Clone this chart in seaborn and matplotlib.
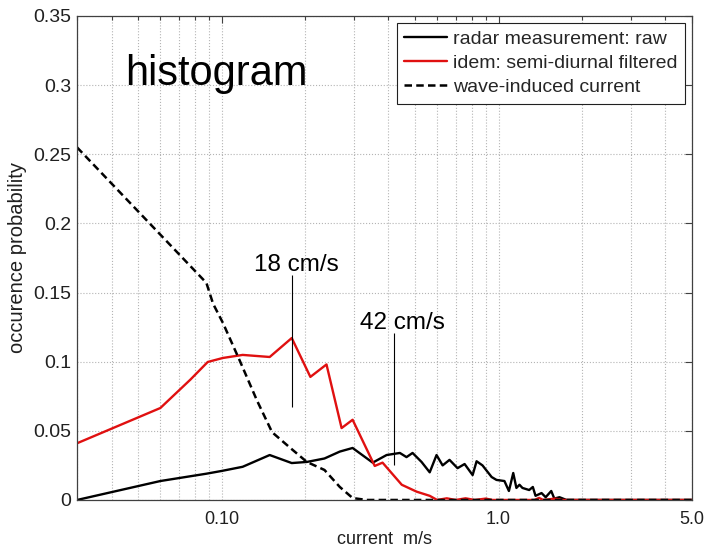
import matplotlib
matplotlib.use("Agg")
import matplotlib.pyplot as plt
from matplotlib.ticker import FixedLocator, FixedFormatter, NullFormatter
import seaborn as sns

# Radar measurement, raw histogram
current_raw = [0.030, 0.060, 0.088, 0.100, 0.119, 0.149, 0.179, 0.203, 0.235, 0.267,
               0.297, 0.351, 0.394, 0.440, 0.465, 0.489, 0.527, 0.564, 0.597, 0.628,
               0.665, 0.711, 0.754, 0.806, 0.833, 0.875, 0.944, 0.983, 1.05, 1.09,
               1.13, 1.16, 1.19, 1.22, 1.29, 1.33, 1.36, 1.43, 1.48, 1.55, 1.59,
               1.66, 1.76, 5.0]
prob_raw = [0.000, 0.0137, 0.019, 0.021, 0.024, 0.0325, 0.0267, 0.0275, 0.030, 0.035,
            0.0376, 0.027, 0.0325, 0.034, 0.031, 0.034, 0.0275, 0.020, 0.0325, 0.025,
            0.029, 0.023, 0.026, 0.018, 0.028, 0.025, 0.0166, 0.0145, 0.0137, 0.0065,
            0.0195, 0.0087, 0.011, 0.0087, 0.0072, 0.0094, 0.003, 0.005, 0.002, 0.0065,
            0.001, 0.002, 0.000, 0.000]

# Same measurement after semi-diurnal filtering
current_filt = [0.030, 0.060, 0.077, 0.089, 0.101, 0.119, 0.149, 0.179, 0.209, 0.239,
                0.271, 0.297, 0.357, 0.381, 0.447, 0.506, 0.564, 0.600, 0.650, 0.700,
                0.760, 0.820, 0.900, 0.950, 1.35, 1.40, 1.45, 1.60, 1.70, 5.0]
prob_filt = [0.041, 0.0665, 0.087, 0.0998, 0.1027, 0.1049, 0.1034, 0.1171, 0.089, 0.098,
             0.052, 0.058, 0.0246, 0.027, 0.011, 0.006, 0.003, 0.000, 0.0012, 0.000,
             0.0012, 0.000, 0.001, 0.000, 0.000, 0.0015, 0.000, 0.001, 0.000, 0.000]

# Wave-induced current
current_wave = [0.030, 0.088, 0.093, 0.101, 0.116, 0.134, 0.152, 0.176, 0.203, 0.235,
                0.267, 0.297, 0.334, 5.0]
prob_wave = [0.255, 0.157, 0.142, 0.128, 0.101, 0.072, 0.049, 0.038, 0.0275, 0.0217,
             0.0094, 0.0014, 0.000, 0.000]

series_labels = ["radar measurement: raw", "idem: semi-diurnal filtered",
                 "wave-induced current"]

# Marked modal speeds (m/s) with their labels
mark_speed = [0.18, 0.42]
mark_text = ["18 cm/s", "42 cm/s"]
mark_low = [0.067, 0.025]
mark_high = [0.163, 0.121]

x_major = [0.1, 1.0, 5.0]
x_major_labels = ["0.10", "1.0", "5.0"]
x_minor = [0.03, 0.04, 0.05, 0.06, 0.07, 0.08, 0.09,
           0.2, 0.3, 0.4, 0.5, 0.6, 0.7, 0.8, 0.9, 2, 3, 4]
y_ticks = [0, 0.05, 0.1, 0.15, 0.2, 0.25, 0.3, 0.35]
y_tick_labels = ["0", "0.05", "0.1", "0.15", "0.2", "0.25", "0.3", "0.35"]

sns.set_theme(style="white")
plt.rcParams["font.family"] = ["Liberation Sans", "DejaVu Sans"]

fig, ax = plt.subplots(figsize=(7.04, 5.49), dpi=100)
fig.subplots_adjust(left=0.1094, right=0.983, bottom=0.0893, top=0.9709)
ax.set_xscale("log")

sns.lineplot(x=current_raw, y=prob_raw, ax=ax, color="black", lw=1.7,
             estimator=None, label=series_labels[0])
sns.lineplot(x=current_filt, y=prob_filt, ax=ax, color="#e01010", lw=1.7,
             estimator=None, label=series_labels[1])
sns.lineplot(x=current_wave, y=prob_wave, ax=ax, color="black", lw=1.8,
             linestyle=(0, (3.0, 1.7)), estimator=None, label=series_labels[2])

ax.set_xlim(0.03, 5.0)
ax.set_ylim(0, 0.35)

ax.xaxis.set_major_locator(FixedLocator(x_major))
ax.xaxis.set_major_formatter(FixedFormatter(x_major_labels))
ax.xaxis.set_minor_locator(FixedLocator(x_minor))
ax.xaxis.set_minor_formatter(NullFormatter())
ax.yaxis.set_major_locator(FixedLocator(y_ticks))
ax.yaxis.set_major_formatter(FixedFormatter(y_tick_labels))

ax.grid(True, which="major", axis="both", linestyle=":", color="#b4b4b4", lw=0.8)
ax.grid(True, which="minor", axis="x", linestyle=":", color="#b4b4b4", lw=0.8)

ax.tick_params(which="both", direction="in", top=True, right=True,
               color="#404040", width=0.8)
ax.tick_params(which="major", length=5)
ax.tick_params(which="minor", length=3)
ax.tick_params(axis="x", which="major", labelsize=13, pad=8, labelcolor="#202020")
ax.tick_params(axis="y", which="major", labelsize=14, pad=4, labelcolor="#202020")
for sp in ax.spines.values():
    sp.set_color("#404040")
    sp.set_linewidth(0.9)

ax.set_xlabel("current  m/s", fontsize=13, labelpad=2, color="#202020")
ax.set_ylabel("occurence probability", fontsize=14.5, labelpad=5, color="#202020")

# Markers for the modal speeds
ax.vlines(mark_speed, mark_low, mark_high, color="black", lw=0.8)
for xs, txt, top, dx in zip(mark_speed, mark_text, mark_high, [4, 8]):
    ax.annotate(txt, xy=(xs, top), xytext=(dx, 4), textcoords="offset pixels",
                ha="center", va="baseline", fontsize=17.5, color="black")

ax.text(0.078, 0.857, "histogram", transform=ax.transAxes, fontsize=30,
        ha="left", va="baseline", color="black")

leg = ax.legend(loc="upper right", frameon=True, fancybox=False, framealpha=1,
                edgecolor="#202020", fontsize=14, borderaxespad=0.35,
                handlelength=2.2, handletextpad=0.3, labelspacing=0.32,
                borderpad=0.4)
leg.get_frame().set_linewidth(0.8)

fig.savefig("out.png", dpi=100, facecolor="white")
